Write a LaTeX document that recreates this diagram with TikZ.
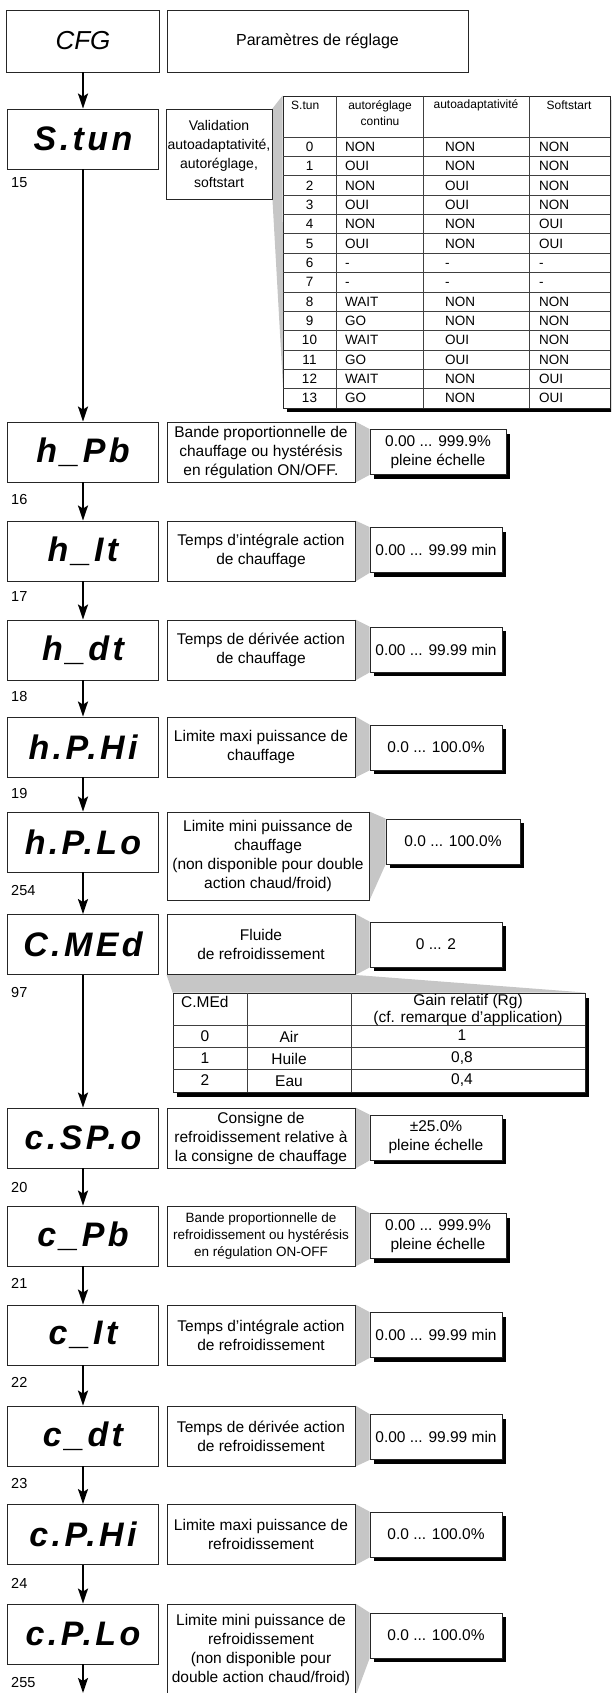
\documentclass[tikz,border=0pt]{standalone}
\usepackage{fontspec}
\setmainfont{Liberation Sans}
\newfontfamily\lcdfont{Liberation Sans}[LetterSpace=10]
\usetikzlibrary{arrows.meta,shadows,backgrounds}

\definecolor{wedgegray}{RGB}{198,198,198}
\newcommand{\descfont}{\fontsize{15.5}{19}\selectfont}
\newcommand{\cellfont}{\fontsize{13.5}{19.36}\selectfont}

\begin{document}
\begin{tikzpicture}[x=1pt,y=-1pt,
	flow/.style = {line width=2pt, -{Stealth[length=15pt,width=10pt,inset=3pt]}},
	box/.style = {draw=black!85, line width=0.9pt, fill=white, inner sep=0pt},
	shadowed/.style = {drop shadow={shadow xshift=4pt, shadow yshift=-4pt, fill=black, opacity=1}},
	display/.style = {box, minimum width=151, minimum height=60, font=\lcdfont\bfseries\itshape\fontsize{34}{34}\selectfont},
	descr/.style = {box, minimum width=188, minimum height=60, align=center, font=\descfont},
	valbox/.style = {box, shadowed, minimum width=132, minimum height=45, align=center, font=\descfont},
	stepnum/.style = {anchor=west, inner sep=0pt, font=\fontsize{14.5}{16}\selectfont},
	hdr/.style = {inner sep=0pt, font=\fontsize{12}{16}\selectfont},
	tabcol/.style = {inner sep=0pt, font=\cellfont},
	cell/.style = {inner sep=0pt, font=\fontsize{15.5}{22}\selectfont},
	callout/.style = {fill=wedgegray},
	grid line/.style = {draw=black!75, line width=0.7pt}]
	\useasboundingbox (0,0) rectangle (611,1693);
	\clip (0,0) rectangle (611,1693);

	% header
	\node[box, minimum width=153, minimum height=62, font=\itshape\fontsize{26}{26}\selectfont] at (83,41) (cfg) {CFG};
	\node[box, minimum width=301, minimum height=62, font=\fontsize{16}{16}\selectfont] at (317.5,41) (title) {Paramètres de réglage};

	% S.tun + table
	\node[display] at (83,139) (stun) {S.tun};
	\node[descr, minimum width=106, minimum height=90, font=\fontsize{14}{19}\selectfont] at (219,154) (stunD) {Validation\\autoadaptativité,\\autoréglage,\\softstart};
	\node[stepnum] at (11,183) (n15) {15};
	\node[box, shadowed, minimum width=327, minimum height=312] at (446.5,252) (stunT) {};
	\coordinate (stunTb) at (283,387);
	\draw[grid line] (336,96) -- (336,408) (423,96) -- (423,408) (529,96) -- (529,408);
	\foreach \k in {0,...,13} \draw[grid line] (283,{137+19.36*\k}) -- (610,{137+19.36*\k});
	\node[hdr, anchor=west] at (291,105) (th1) {S.tun};
	\node[hdr, align=center] at (380,113) (th2) {autoréglage\\continu};
	\node[hdr] at (476,105) (th3) {autoadaptativité};
	\node[hdr] at (569,105) (th4) {Softstart};
	\node[tabcol, align=center] at (309.5,272.5) (tc1) {0\\1\\2\\3\\4\\5\\6\\7\\8\\9\\10\\11\\12\\13};
	\node[tabcol, align=left, anchor=west] at (345,272.5) (tc2) {NON\\OUI\\NON\\OUI\\NON\\OUI\\-\\-\\WAIT\\GO\\WAIT\\GO\\WAIT\\GO};
	\node[tabcol, align=left, anchor=west] at (445,272.5) (tc3) {NON\\NON\\OUI\\OUI\\NON\\NON\\-\\-\\NON\\NON\\OUI\\OUI\\NON\\NON};
	\node[tabcol, align=left, anchor=west] at (539,272.5) (tc4) {NON\\NON\\NON\\NON\\OUI\\OUI\\-\\-\\NON\\NON\\NON\\NON\\OUI\\OUI};

	% heating
	\node[display] at (83,452) (hpb) {h\_Pb};
	\node[descr] at (261,452) (hpbD) {Bande proportionnelle de\\chauffage ou hystérésis\\en régulation ON/OFF.};
	\node[valbox, minimum width=136] at (438,452) (hpbV) {0.00 ... 999.9\%\\pleine échelle};
	\node[stepnum] at (11,500) (n16) {16};

	\node[display] at (83,551) (hit) {h\_It};
	\node[descr] at (261,551) (hitD) {Temps d’intégrale action\\de chauffage};
	\node[valbox] at (436,550) (hitV) {0.00 ... 99.99 min};
	\node[stepnum] at (11,597) (n17) {17};

	\node[display] at (83,650) (hdt) {h\_dt};
	\node[descr] at (261,650) (hdtD) {Temps de dérivée action\\de chauffage};
	\node[valbox] at (436,649.5) (hdtV) {0.00 ... 99.99 min};
	\node[stepnum] at (11,697) (n18) {18};

	\node[display] at (83,747) (hphi) {h.P.Hi};
	\node[descr] at (261,747) (hphiD) {Limite maxi puissance de\\chauffage};
	\node[valbox] at (436,747.5) (hphiV) {0.0 ... 100.0\%};
	\node[stepnum] at (11,794) (n19) {19};

	\node[display] at (83,842) (hplo) {h.P.Lo};
	\node[descr, minimum width=202, minimum height=88] at (268,856) (hploD) {Limite mini puissance de\\chauffage\\(non disponible pour double\\action chaud/froid)};
	\node[valbox, minimum width=134] at (453,841.5) (hploV) {0.0 ... 100.0\%};
	\node[stepnum] at (11,890) (n254) {254};

	% cooling medium + table
	\node[display] at (83,944.5) (cmed) {C.MEd};
	\node[descr] at (261,944.5) (cmedD) {Fluide\\de refroidissement};
	\node[valbox] at (436,944.5) (cmedV) {0 ... 2};
	\node[stepnum] at (11,992) (n97) {97};
	\node[box, drop shadow={shadow xshift=4pt, shadow yshift=-5pt, fill=black, opacity=1}, minimum width=412, minimum height=99] at (379,1042.5) (cmedT) {};
	\draw[grid line] (247,993) -- (247,1092) (351,993) -- (351,1092) (173,1025) -- (585,1025) (173,1047) -- (585,1047) (173,1069) -- (585,1069);
	\node[cell, anchor=west] at (181,1002) (mh1) {C.MEd};
	\node[cell, align=center, font=\fontsize{15.5}{17}\selectfont] at (468,1010) (mh3) {Gain relatif (Rg)\\(cf. remarque d’application)};
	\node[cell, align=center] at (205,1058.5) (mc1) {0\\1\\2};
	\node[cell, align=center] at (289,1058.5) (mc2) {Air\\Huile\\Eau};
	\node[cell, align=center] at (462,1058.5) (mc3) {1\\0,8\\0,4};

	% cooling
	\node[display] at (83,1138) (cspo) {c.SP.o};
	\node[descr] at (261,1138) (cspoD) {Consigne de\\refroidissement relative à\\la consigne de chauffage};
	\node[valbox] at (436,1137.5) (cspoV) {±25.0\%\\pleine échelle};
	\node[stepnum] at (11,1187) (n20) {20};

	\node[display] at (83,1236) (cpb) {c\_Pb};
	\node[descr, font=\fontsize{13.5}{17}\selectfont] at (261,1236) (cpbD) {Bande proportionnelle de\\refroidissement ou hystérésis\\en régulation ON-OFF};
	\node[valbox, minimum width=136] at (438,1236) (cpbV) {0.00 ... 999.9\%\\pleine échelle};
	\node[stepnum] at (11,1283) (n21) {21};

	\node[display] at (83,1335) (cit) {c\_It};
	\node[descr] at (261,1335) (citD) {Temps d’intégrale action\\de refroidissement};
	\node[valbox] at (436,1335) (citV) {0.00 ... 99.99 min};
	\node[stepnum] at (11,1382) (n22) {22};

	\node[display] at (83,1436) (cdt) {c\_dt};
	\node[descr] at (261,1436) (cdtD) {Temps de dérivée action\\de refroidissement};
	\node[valbox] at (436,1437) (cdtV) {0.00 ... 99.99 min};
	\node[stepnum] at (11,1483) (n23) {23};

	\node[display] at (83,1534.5) (cphi) {c.P.Hi};
	\node[descr] at (261,1534.5) (cphiD) {Limite maxi puissance de\\refroidissement};
	\node[valbox] at (436,1534.5) (cphiV) {0.0 ... 100.0\%};
	\node[stepnum] at (11,1583) (n24) {24};

	\node[display] at (83,1634) (cplo) {c.P.Lo};
	\node[descr, minimum height=92] at (261,1650) (cploD) {Limite mini puissance de\\refroidissement\\(non disponible pour\\double action chaud/froid)};
	\node[valbox] at (436,1635.5) (cploV) {0.0 ... 100.0\%};
	\node[stepnum] at (11,1682) (n255) {255};
	\coordinate (end) at (83,1693);

	% grey callouts
	\begin{pgfonlayer}{background}
	\fill[callout] (stunD.north east) -- (stunT.north west) -- (stunTb) -- (stunD.south east) -- cycle;
	\fill[callout] (cmedD.south west) -- (cmedD.south east) -- (cmedT.north east) -- (cmedT.north west) -- cycle;
	\fill[callout] (hpbD.north east) -- (hpbV.north west) -- (hpbV.south west) -- (hpbD.south east) -- cycle;
	\fill[callout] (hitD.north east) -- (hitV.north west) -- (hitV.south west) -- (hitD.south east) -- cycle;
	\fill[callout] (hdtD.north east) -- (hdtV.north west) -- (hdtV.south west) -- (hdtD.south east) -- cycle;
	\fill[callout] (hphiD.north east) -- (hphiV.north west) -- (hphiV.south west) -- (hphiD.south east) -- cycle;
	\fill[callout] (hploD.north east) -- (hploV.north west) -- (hploV.south west) -- (hploD.south east) -- cycle;
	\fill[callout] (cmedD.north east) -- (cmedV.north west) -- (cmedV.south west) -- (cmedD.south east) -- cycle;
	\fill[callout] (cspoD.north east) -- (cspoV.north west) -- (cspoV.south west) -- (cspoD.south east) -- cycle;
	\fill[callout] (cpbD.north east) -- (cpbV.north west) -- (cpbV.south west) -- (cpbD.south east) -- cycle;
	\fill[callout] (citD.north east) -- (citV.north west) -- (citV.south west) -- (citD.south east) -- cycle;
	\fill[callout] (cdtD.north east) -- (cdtV.north west) -- (cdtV.south west) -- (cdtD.south east) -- cycle;
	\fill[callout] (cphiD.north east) -- (cphiV.north west) -- (cphiV.south west) -- (cphiD.south east) -- cycle;
	\fill[callout] (cploD.north east) -- (cploV.north west) -- (cploV.south west) -- (cploD.south east) -- cycle;
	\end{pgfonlayer}

	% flow
	\path[flow] (cfg) edge (stun) (stun) edge (hpb) (hpb) edge (hit) (hit) edge (hdt)
		(hdt) edge (hphi) (hphi) edge (hplo) (hplo) edge (cmed) (cmed) edge (cspo)
		(cspo) edge (cpb) (cpb) edge (cit) (cit) edge (cdt) (cdt) edge (cphi)
		(cphi) edge (cplo) (cplo) edge (end);
\end{tikzpicture}
\end{document}
